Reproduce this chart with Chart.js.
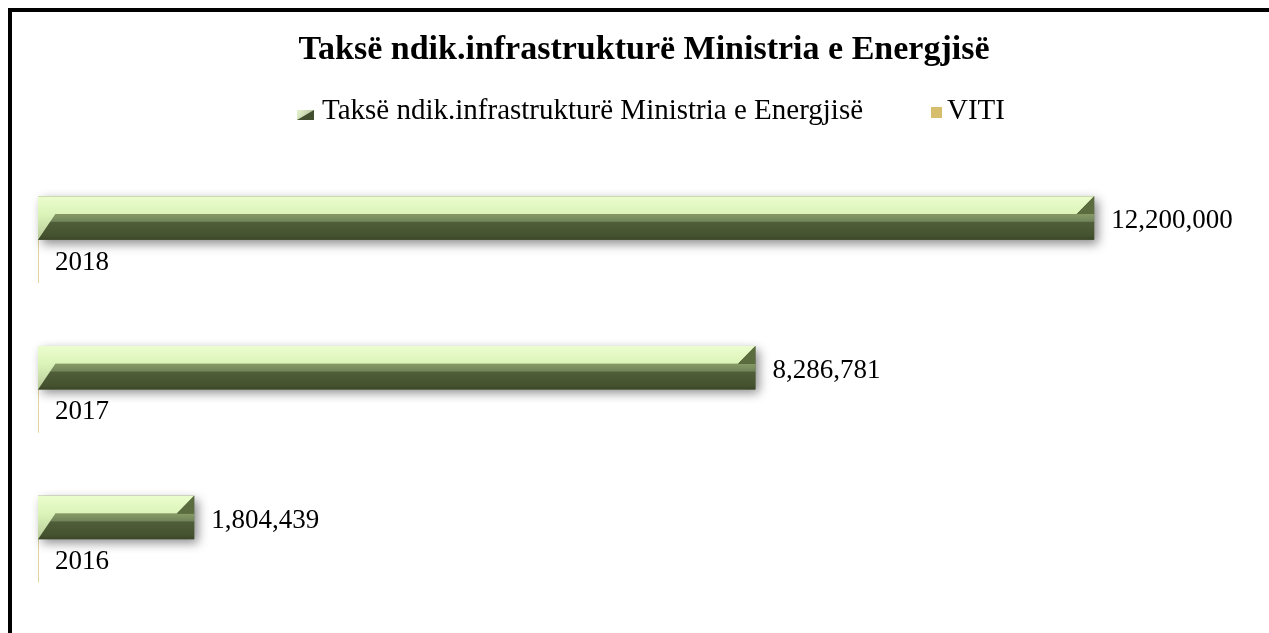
<!DOCTYPE html>
<html>
<head>
<meta charset="utf-8">
<script src="https://cdn.jsdelivr.net/npm/chart.js@4/dist/chart.umd.min.js"></script>
<style>
html,body{margin:0;padding:0;background:#fff;overflow:hidden;width:1269px;height:633px}
#frame{position:absolute;left:8px;top:8px;width:1400px;height:800px;border:4px solid #000;box-sizing:border-box;background:#fff}
#c{position:absolute;left:0;top:0}
</style>
</head>
<body>
<div id="frame"></div>
<canvas id="c" width="1269" height="633"></canvas>
<script>
const chartTitle = 'Taksë ndik.infrastrukturë Ministria e Energjisë';
const categories = ['2018', '2017', '2016'];
const seriesNames = ['Taksë ndik.infrastrukturë Ministria e Energjisë', 'VITI'];
const taxValues = [12200000, 8286781, 1804439];
const yearValues = [2018, 2017, 2016];
const xAxisMax = 14000000;

const SERIF = "'Liberation Serif', 'Times New Roman', serif";
const VITI_COLOR = '#d6be6c';

const shadowPlugin = {
  id: 'barShadow',
  beforeDatasetDraw(chart, args) {
    if (args.index === 0) {
      const ctx = chart.ctx;
      ctx.save();
      ctx.shadowColor = 'rgba(0,0,0,0.45)';
      ctx.shadowBlur = 10;
      ctx.shadowOffsetX = 4;
      ctx.shadowOffsetY = 4;
    }
  },
  afterDatasetDraw(chart, args) {
    if (args.index === 0) chart.ctx.restore();
  }
};

const bevelPlugin = {
  id: 'bevel',
  afterDatasetsDraw(chart) {
    const ctx = chart.ctx;
    const meta = chart.getDatasetMeta(0);
    ctx.save();
    meta.data.forEach(el => {
      const p = el.getProps(['x', 'y', 'base', 'height'], true);
      const x0 = Math.min(p.base, p.x), x1 = Math.max(p.base, p.x);
      const h = p.height, top = p.y - h / 2, bot = p.y + h / 2;
      const s1 = top + h * 0.41;
      const d = h * 0.4;
      let g = ctx.createLinearGradient(0, s1, 0, bot);
      g.addColorStop(0, '#879b67');
      g.addColorStop(0.28, '#72855a');
      g.addColorStop(0.33, '#4f5e38');
      g.addColorStop(0.85, '#45522f');
      g.addColorStop(1, '#3a4527');
      ctx.fillStyle = g;
      ctx.fillRect(x0, s1, x1 - x0, bot - s1);
      g = ctx.createLinearGradient(0, top, 0, bot);
      g.addColorStop(0, '#ebfdce');
      g.addColorStop(0.4, '#dcf4b9');
      g.addColorStop(1, '#b9cc9c');
      ctx.beginPath();
      ctx.moveTo(x0, top);
      ctx.lineTo(x1, top);
      ctx.lineTo(x1 - d, s1);
      ctx.lineTo(x0 + d, s1);
      ctx.lineTo(x0, bot);
      ctx.closePath();
      ctx.fillStyle = g;
      ctx.fill();
      ctx.beginPath();
      ctx.moveTo(x1 - d, s1);
      ctx.lineTo(x1, top);
      ctx.lineTo(x1, s1);
      ctx.closePath();
      ctx.fillStyle = '#5b6c3e';
      ctx.fill();
    });
    ctx.restore();
  }
};

const labelPlugin = {
  id: 'valueLabels',
  afterDatasetsDraw(chart) {
    const ctx = chart.ctx;
    ctx.save();
    ctx.font = '27px ' + SERIF;
    ctx.fillStyle = '#000';
    ctx.textAlign = 'left';
    ctx.textBaseline = 'alphabetic';
    chart.data.datasets.forEach((ds, di) => {
      const meta = chart.getDatasetMeta(di);
      meta.data.forEach((el, i) => {
        const v = ds.data[i];
        const text = di === 0 ? v.toLocaleString('en-US') : String(v);
        const top = el.y - el.height / 2;
        const x = el.x + (di === 0 ? 17 : 16);
        const y = top + (di === 0 ? 32 : 30);
        ctx.fillText(text, x, y);
      });
    });
    ctx.restore();
  }
};

const legendPlugin = {
  id: 'customLegend',
  afterDraw(chart) {
    const ctx = chart.ctx;
    ctx.save();
    ctx.font = '29px ' + SERIF;
    ctx.textBaseline = 'alphabetic';
    const names = chart.data.datasets.map(d => d.label);
    const base = 119;
    // item 1 icon
    const ix = 297, iy = 110, iw = 17, ih = 10;
    let g = ctx.createLinearGradient(ix, iy, ix + iw, iy + ih);
    g.addColorStop(0, '#e6f5cf');
    g.addColorStop(1, '#a9b991');
    ctx.fillStyle = g;
    ctx.fillRect(ix, iy, iw, ih);
    ctx.beginPath();
    ctx.moveTo(ix, iy + ih);
    ctx.lineTo(ix + iw, iy);
    ctx.lineTo(ix + iw, iy + ih);
    ctx.closePath();
    ctx.fillStyle = '#435030';
    ctx.fill();
    ctx.fillStyle = '#000';
    ctx.fillText(names[0], 322, base);
    // item 2
    ctx.fillStyle = VITI_COLOR;
    ctx.fillRect(931, 107, 11, 11);
    ctx.fillStyle = '#000';
    ctx.fillText(names[1], 947, base);
    ctx.restore();
  }
};

new Chart(document.getElementById('c'), {
  type: 'bar',
  data: {
    labels: categories,
    datasets: [
      {
        label: seriesNames[0],
        data: taxValues,
        backgroundColor: '#46542f',
        borderWidth: 0,
        categoryPercentage: 0.58,
        barPercentage: 1,
        clip: false
      },
      {
        label: seriesNames[1],
        data: yearValues,
        backgroundColor: '#e3d49e',
        borderWidth: 0,
        minBarLength: 1,
        categoryPercentage: 0.58,
        barPercentage: 1,
        clip: false
      }
    ]
  },
  options: {
    indexAxis: 'y',
    responsive: false,
    animation: false,
    devicePixelRatio: 1,
    layout: { padding: { left: 38, right: 19, top: 0, bottom: 19 } },
    scales: {
      x: { display: false, min: 0, max: xAxisMax },
      y: { display: false }
    },
    plugins: {
      legend: { display: false },
      tooltip: { enabled: false },
      title: {
        display: true,
        text: chartTitle,
        color: '#000',
        font: { family: SERIF, size: 34, weight: 'bold', lineHeight: 1.2 },
        padding: { top: 30, bottom: 94 }
      }
    }
  },
  plugins: [shadowPlugin, bevelPlugin, labelPlugin, legendPlugin]
});
</script>
</body>
</html>
